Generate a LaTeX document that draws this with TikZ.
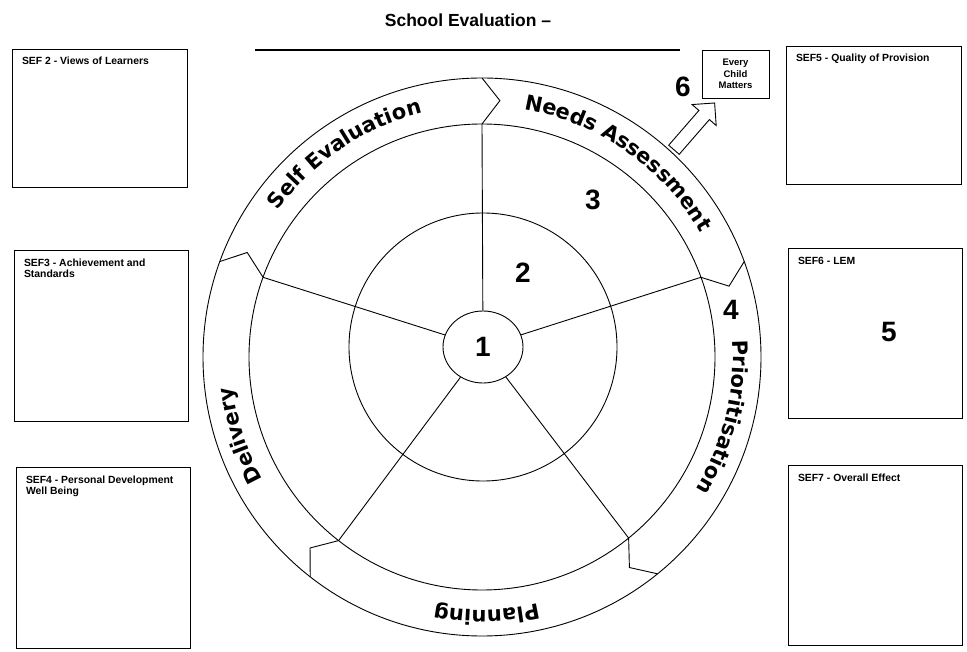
\documentclass[tikz,border=0pt]{standalone}
\usepackage{fontspec}
\setmainfont{Liberation Sans}
\newfontfamily\bandfont{DejaVu Sans}
\usetikzlibrary{positioning,calc,shapes.geometric,shapes.arrows,decorations.text}

\newcommand\bandtext{\bandfont\bfseries\fontsize{21}{24}\selectfont}

\begin{document}
\begin{tikzpicture}[x=1pt, y=1pt, line width=0.9pt,
            sefbox/.style={draw, inner sep=0pt},
            sefhead/.style={font=\bfseries\fontsize{10.4}{11.4}\selectfont, align=left, inner sep=0pt},
            num/.style={font=\bfseries\fontsize{28}{30}\selectfont, inner sep=0pt},
            hub/.style={ellipse, draw, fill=white, minimum width=80pt, minimum height=72pt, inner sep=0pt, font=\bfseries\fontsize{28}{30}\selectfont},
            band/.style={decorate, decoration={text along path, text align=center, text={|\bandtext|#1}}},
            blockarrow/.style={single arrow, draw, fill=white, minimum height=62pt, inner xsep=0pt, inner ysep=6.5pt, single arrow head extend=9pt}]

            \useasboundingbox (0,0) rectangle (967,651);

            % heading
            \node[font=\bfseries\fontsize{17.5}{20}\selectfont] (title) at (468,631) {School Evaluation –};
            \coordinate (lineL) at (255,601);
            \coordinate (lineR) at (680,601);
            \draw[line width=1.4pt] (lineL) -- (lineR);

            % SEF boxes
            \node[sefbox, minimum width=175pt, minimum height=138pt] (sef2) at (99.5,533) {};
            \node[sefbox, minimum width=174pt, minimum height=171pt] (sef3) at (101,315.5) {};
            \node[sefbox, minimum width=174pt, minimum height=181pt] (sef4) at (103,93.5) {};
            \node[sefbox, minimum width=175pt, minimum height=138pt] (sef5) at (873.5,536) {};
            \node[sefbox, minimum width=174pt, minimum height=170pt] (sef6) at (875,318) {};
            \node[sefbox, minimum width=174pt, minimum height=180pt] (sef7) at (875,96) {};

            \node[sefhead, below right=8pt and 10pt of sef2.north west] (sef2head) {SEF 2 - Views of Learners};
            \node[sefhead, below right=9pt and 10pt of sef3.north west] (sef3head) {SEF3 - Achievement and\\Standards};
            \node[sefhead, below right=9pt and 10pt of sef4.north west] (sef4head) {SEF4 - Personal Development\\Well Being};
            \node[sefhead, below right=8pt and 10pt of sef5.north west] (sef5head) {SEF5 - Quality of Provision};
            \node[sefhead, below right=9pt and 10pt of sef6.north west] (sef6head) {SEF6 - LEM};
            \node[sefhead, below right=9pt and 10pt of sef7.north west] (sef7head) {SEF7 - Overall Effect};

            % wheel
            \coordinate (O) at (482,294);
            \coordinate (mid) at (483,304);
            \draw (O) circle[radius=279];
            \draw (O) circle[radius=233];
            \draw (mid) circle[radius=134];
            \node[hub] (hub) at (mid) {1};

            \foreach \a [count=\i] in {90,20,-51,-128,160}{
                \coordinate (in\i) at ($(O)+(\a:233)$);
                \draw (hub) -- (in\i);
                \draw (in\i) -- ($(O)+(\a-4:257)$) -- ($(O)+(\a:279)$);
            }

            \path[band=Self Evaluation] (O) ++(160:251) arc[start angle=160, end angle=88, radius=251];
            \path[band=Needs Assessment] (O) ++(90:251) arc[start angle=90, end angle=20, radius=251];
            \path[band=Prioritisation] (O) ++(20:251) arc[start angle=20, end angle=-48, radius=251];
            \path[band=Planning] (O) ++(-50:253) arc[start angle=-50, end angle=-128, radius=253];
            \path[band=Delivery] (O) ++(-128:251) arc[start angle=-128, end angle=-196, radius=251];

            % every child matters
            \node[blockarrow, rotate=49] (ecmarrow) at (692,522) {};
            \node[draw, align=center, minimum width=67pt, minimum height=48pt, inner sep=0pt, font=\bfseries\fontsize{9.5}{11.5}\selectfont] (ecm) at (735.5,577) {Every\\Child\\Matters};

            \node[num] (n2) at (523,378) {2};
            \node[num] (n3) at (593,451) {3};
            \node[num] (n4) at (731,341) {4};
            \node[num] (n5) at (889,319) {5};
            \node[num] (n6) at (683,564) {6};

        \end{tikzpicture}
\end{document}
